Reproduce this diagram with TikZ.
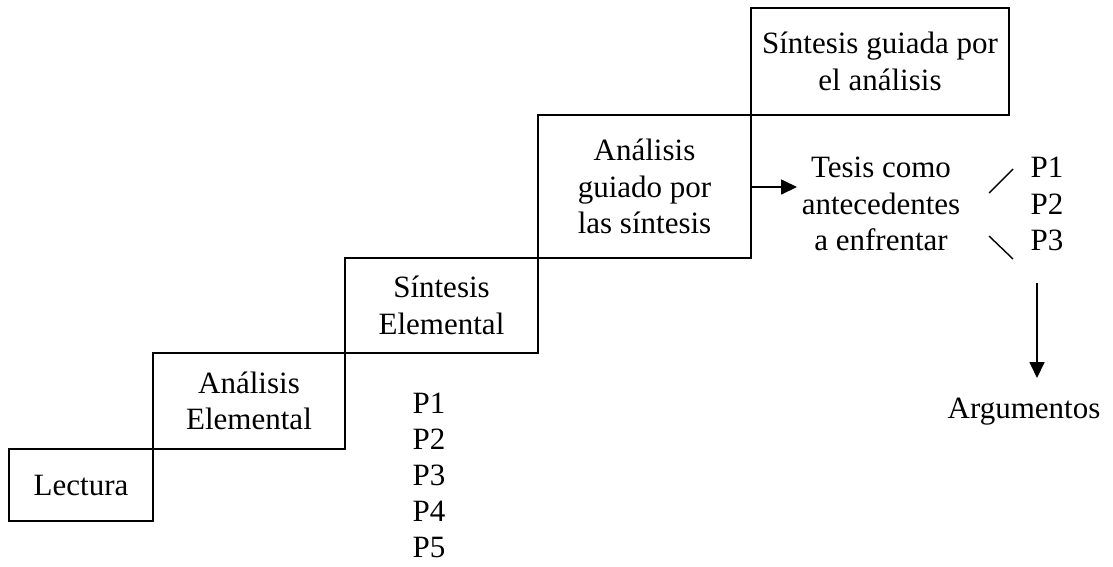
\documentclass[tikz,border=0pt]{standalone}
\usepackage{fontspec}
\setmainfont{Liberation Serif}
\usetikzlibrary{arrows.meta}
\tikzset{
  stepbox/.style={draw, line width=1.7pt, inner sep=0pt, align=center,
    font=\fontsize{31}{36.5}\selectfont},
  txt/.style={inner sep=0pt, align=center, font=\fontsize{31}{36.5}\selectfont},
  arr/.style={line width=1.7pt, -{Triangle[length=16pt,width=15pt]}},
  tick/.style={line width=1.4pt}
}
\begin{document}
\begin{tikzpicture}[x=1pt,y=-1pt]
\useasboundingbox (0,0) rectangle (1113,566);
\node[stepbox, minimum width=144pt, minimum height=72pt] (b1) at (81,485) {Lectura};
\node[stepbox, minimum width=192pt, minimum height=96pt] (b2) at (249,401) {Análisis\\Elemental};
\node[stepbox, minimum width=193pt, minimum height=95pt] (b3) at (441.5,305.5) {Síntesis\\Elemental};
\node[stepbox, minimum width=213pt, minimum height=143pt] (b4) at (644.5,186.5) {Análisis\\guiado por\\las síntesis};
\node[stepbox, minimum width=258pt, minimum height=107pt] (b5) at (880,61.5) {Síntesis guiada por\\el análisis};
\node[txt, font=\fontsize{31}{36}\selectfont] (plist) at (429,475) {P1\\P2\\P3\\P4\\P5};
\node[txt] (tesis) at (881,204) {Tesis como\\antecedentes\\a enfrentar};
\node[txt] (pcol) at (1047,204) {P1\\P2\\P3};
\node[txt, anchor=base] (arg) at (1024,418) {Argumentos};
\coordinate (s1a) at (989,193);
\coordinate (s1b) at (1013,169);
\coordinate (s2a) at (989,236);
\coordinate (s2b) at (1013,259);
\draw[tick] (s1a) -- (s1b);
\draw[tick] (s2a) -- (s2b);
\coordinate (h1) at (797,187);
\draw[arr] (b4.east |- h1) -- (h1);
\coordinate (vtop) at (1037,283);
\coordinate (vbot) at (1037,378);
\draw[arr] (vtop) -- (vbot);
\end{tikzpicture}
\end{document}
